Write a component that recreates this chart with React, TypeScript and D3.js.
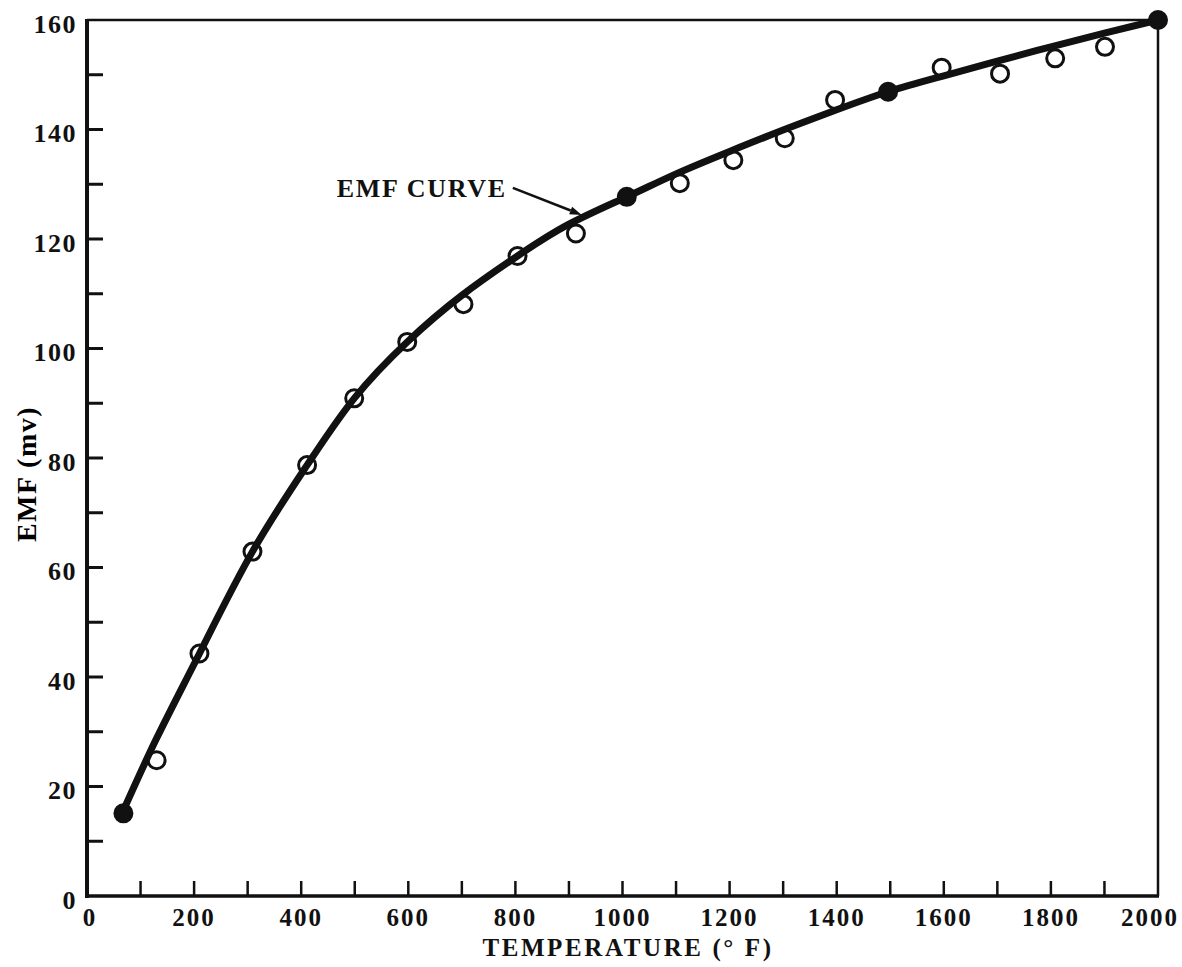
import React from "react";
import * as d3 from "d3";

// Measured data points (temperature °F, EMF mv)
const pointTemps = [68, 130, 210, 309, 411, 499, 598, 703, 804, 913, 1008, 1107, 1207, 1303, 1397, 1496, 1596, 1705, 1808, 1901, 2000];
const pointEmf = [15.1, 24.8, 44.3, 62.9, 78.7, 90.9, 101.2, 108.1, 116.9, 121.0, 127.7, 130.2, 134.4, 138.4, 145.4, 146.9, 151.3, 150.2, 153.0, 155.1, 160.0];
const filledTemps = [68, 1008, 1496, 2000];

// Fitted EMF curve
const curveTemps = [66, 130, 210, 309, 411, 499, 598, 700, 804, 900, 1008, 1100, 1200, 1300, 1400, 1496, 1600, 1700, 1800, 1900, 2000];
const curveEmf = [15.2, 28.8, 44.3, 62.9, 78.7, 90.9, 101.2, 109.7, 116.9, 122.7, 127.7, 131.9, 136.0, 139.9, 143.6, 146.9, 149.8, 152.5, 155.1, 157.6, 160.0];

const yLabelValues = [0, 20, 40, 60, 80, 100, 120, 140, 160];
const yTickValues = d3.range(10, 160, 10);
const xLabelValues = [0, 200, 400, 600, 800, 1000, 1200, 1400, 1600, 1800, 2000];
const xTickValues = d3.range(100, 2000, 100);

const FONT = "'Liberation Serif', 'Times New Roman', serif";
const INK = "#111";

export default function App() {
  const x = d3.scaleLinear().domain([0, 2000]).range([87, 1158]);
  const y = d3.scaleLinear().domain([0, 160]).range([896, 20]);

  const line = d3
    .line<number>()
    .x((_, i) => x(curveTemps[i]))
    .y((d) => y(d))
    .curve(d3.curveNatural);

  const curvePath = line(curveEmf) || "";

  // annotation
  const labelEnd = { t: 784, v: 127.7 };
  const arrowTip = { t: 924, v: 124.4 };
  const ax0 = x(labelEnd.t) + 6;
  const ay0 = y(labelEnd.v) - 9;
  const ax1 = x(arrowTip.t);
  const ay1 = y(arrowTip.v);
  const ang = Math.atan2(ay1 - ay0, ax1 - ax0);
  const hl = 12, hw = 4;
  const bx = ax1 - hl * Math.cos(ang), by = ay1 - hl * Math.sin(ang);
  const head = `M${ax1},${ay1} L${bx - hw * Math.sin(ang)},${by + hw * Math.cos(ang)} L${bx + hw * Math.sin(ang)},${by - hw * Math.cos(ang)} Z`;

  return (
    <svg
      width={1182}
      height={967}
      style={{ position: "absolute", left: 0, top: 0, background: "#fff" }}
    >
      <rect x={0} y={0} width={1182} height={967} fill="#fff" />
      {/* frame: top and right */}
      <line x1={x(0)} y1={y(160)} x2={x(2000)} y2={y(160)} stroke={INK} strokeWidth={2.5} />
      <line x1={x(2000)} y1={y(160)} x2={x(2000)} y2={y(0)} stroke={INK} strokeWidth={2.5} />
      {/* axes */}
      <line x1={x(0)} y1={y(160) - 1} x2={x(0)} y2={y(0) + 2} stroke={INK} strokeWidth={4} />
      <line x1={x(0) - 2} y1={y(0)} x2={x(2000) + 1} y2={y(0)} stroke={INK} strokeWidth={3.5} />

      {/* y ticks */}
      {yTickValues.map((v) => (
        <line key={"yt" + v} x1={x(0)} x2={x(0) + 16} y1={y(v)} y2={y(v)} stroke={INK} strokeWidth={3} />
      ))}
      {/* x ticks */}
      {xTickValues.map((t) => (
        <line key={"xt" + t} x1={x(t)} x2={x(t)} y1={y(0)} y2={y(0) - 15} stroke={INK} strokeWidth={2.5} />
      ))}

      {/* y labels */}
      {yLabelValues.map((v) => (
        <text
          key={"yl" + v}
          x={x(0) - 10}
          y={y(v) + 4}
          textAnchor="end"
          dominantBaseline="central"
          fontFamily={FONT}
          fontWeight="bold"
          fontSize={26}
          letterSpacing={1.5}
          fill={INK}
        >
          {v}
        </text>
      ))}
      {/* x labels */}
      {xLabelValues.map((t) => (
        <text
          key={"xl" + t}
          x={t === 2000 ? 1179 : x(t) + (t === 0 ? 3 : 0)}
          y={926}
          textAnchor={t === 2000 ? "end" : "middle"}
          fontFamily={FONT}
          fontWeight="bold"
          fontSize={25}
          letterSpacing={2}
          fill={INK}
        >
          {t}
        </text>
      ))}

      {/* axis titles */}
      <text
        x={628}
        y={956}
        textAnchor="middle"
        fontFamily={FONT}
        fontWeight="bold"
        fontSize={25}
        letterSpacing={2.6}
        fill={INK}
      >
        TEMPERATURE (° F)
      </text>
      <text
        transform="translate(36,474) rotate(-90)"
        textAnchor="middle"
        fontFamily={FONT}
        fontWeight="bold"
        fontSize={28}
        letterSpacing={1.5}
        fill="#000"
      >
        EMF (mv)
      </text>

      {/* curve */}
      <path d={curvePath} fill="none" stroke={INK} strokeWidth={7} strokeLinecap="round" />

      {/* points */}
      {pointTemps.map((t, i) => {
        const filled = filledTemps.includes(t);
        return (
          <circle
            key={"p" + t}
            cx={x(t)}
            cy={y(pointEmf[i])}
            r={8.5}
            fill={filled ? INK : "none"}
            stroke={INK}
            strokeWidth={3}
          />
        );
      })}

      {/* annotation */}
      <text
        x={x(labelEnd.t)}
        y={y(labelEnd.v)}
        textAnchor="end"
        fontFamily={FONT}
        fontWeight="bold"
        fontSize={26}
        letterSpacing={1.7}
        fill={INK}
      >
        EMF CURVE
      </text>
      <line x1={ax0} y1={ay0} x2={bx} y2={by} stroke={INK} strokeWidth={2.5} />
      <path d={head} fill={INK} />
    </svg>
  );
}
